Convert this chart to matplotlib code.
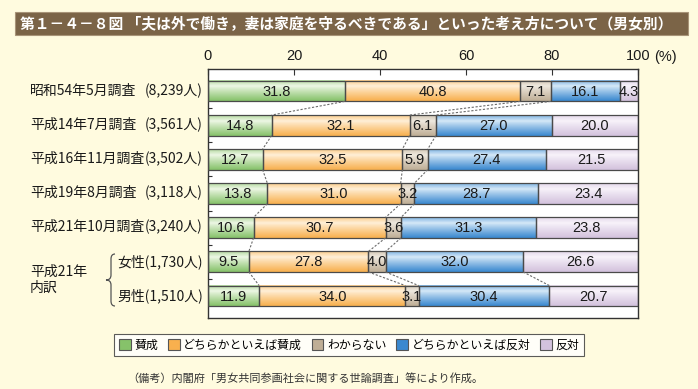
import matplotlib
matplotlib.use('Agg')
import matplotlib.pyplot as plt
import numpy as np
from matplotlib.patches import Rectangle, PathPatch, Patch
from matplotlib.path import Path
from matplotlib.colors import to_rgb

# ---------------- data ----------------
categories = ['昭和54年5月調査', '平成14年7月調査', '平成16年11月調査', '平成19年8月調査',
              '平成21年10月調査', '女性', '男性']
counts = ['(8,239人)', '(3,561人)', '(3,502人)', '(3,118人)', '(3,240人)', '(1,730人)', '(1,510人)']
series_names = ['賛成', 'どちらかといえば賛成', 'わからない', 'どちらかといえば反対', '反対']
agree = [31.8, 14.8, 12.7, 13.8, 10.6, 9.5, 11.9]
rather_agree = [40.8, 32.1, 32.5, 31.0, 30.7, 27.8, 34.0]
unknown = [7.1, 6.1, 5.9, 3.2, 3.6, 4.0, 3.1]
rather_disagree = [16.1, 27.0, 27.4, 28.7, 31.3, 32.0, 30.4]
disagree = [4.3, 20.0, 21.5, 23.4, 23.8, 26.6, 20.7]
x_ticks = [0, 20, 40, 60, 80, 100]
title = '第１－４－８図 「夫は外で働き，妻は家庭を守るべきである」といった考え方について（男女別）'
note = '（備考）内閣府「男女共同参画社会に関する世論調査」等により作成。'

series = [agree, rather_agree, unknown, rather_disagree, disagree]
base_colors = ['#86c26a', '#f8b04e', '#bfae96', '#3a88cf', '#d3c2dd']
light_colors = ['#eef7e6', '#fff0d8', '#efe9df', '#d6e9f8', '#f8f3fa']

JP = ['Noto Sans CJK JP', 'DejaVu Sans']
NUM = ['Liberation Sans', 'DejaVu Sans']
plt.rcParams['font.family'] = JP

W, H = 698, 389
BG = '#fffbdf'
fig = plt.figure(figsize=(W / 100, H / 100), dpi=100, facecolor=BG)


def fx(x):
    return x / W


def fy(y):
    return 1 - y / H


# axes: x 208..638, y 69..318 (pixels)
ax = fig.add_axes([fx(208), fy(318), (638 - 208) / W, (318 - 69) / H])
ax.set_facecolor('white')

n = len(categories)
bar_h = 0.6
ys = np.arange(n)


def gradient_img(base, light):
    b = np.array(to_rgb(base))
    l = np.array(to_rgb(light))
    t = np.linspace(0, 1, 40)
    f = np.where(t < 0.28, 0.55 * (1 - t / 0.28), ((t - 0.28) / 0.72) ** 0.9)
    img = l[None, :] * (1 - f[:, None]) + b[None, :] * f[:, None]
    return img[:, None, :]


lefts = np.zeros(n)
ends = []
for s_idx, vals in enumerate(series):
    img = gradient_img(base_colors[s_idx], light_colors[s_idx])
    vals = np.array(vals)
    for i in range(n):
        l, w = lefts[i], vals[i]
        ax.imshow(img, extent=(l, l + w, i + bar_h / 2, i - bar_h / 2), aspect='auto',
                  interpolation='bilinear', zorder=2, clip_on=True)
        ax.text(l + w / 2, i + 0.02, f'{w:.1f}', ha='center', va='center', fontsize=10.5,
                family=NUM, color='#1a1a1a', zorder=4, clip_on=True)
    ax.barh(ys, vals, left=lefts, height=bar_h, facecolor='none', edgecolor='#4a4a4a',
            linewidth=0.9, zorder=3)
    lefts = lefts + vals
    ends.append(lefts.copy())

# dashed connector lines
for i in range(n - 1):
    k_list = [0, 1, 2] + ([3] if i == n - 2 else [])
    for k in k_list:
        ax.plot([ends[k][i], ends[k][i + 1]], [i + bar_h / 2, i + 1 - bar_h / 2],
                linestyle=(0, (2, 1.5)), color='#6a6a6a', linewidth=0.8, zorder=3)

ax.set_xlim(0, 100)
ax.set_ylim(n - 1 + 0.65, -0.65)
ax.xaxis.tick_top()
ax.set_xticks(x_ticks)
ax.set_xticklabels([str(t) for t in x_ticks], family=NUM)
ax.tick_params(axis='x', direction='in', length=4, width=0.8, pad=4, labelsize=10.5,
               colors='#333333', labelcolor='#1a1a1a')
ax.set_yticks(np.arange(n - 1) + 0.5)
ax.set_yticklabels([])
ax.tick_params(axis='y', direction='in', length=3, width=0.8, colors='#333333')
for sp in ax.spines.values():
    sp.set_color('#333333')
    sp.set_linewidth(1.0)

fig.text(fx(654), fy(57), '(%)', fontsize=10.5, family=NUM, va='center', ha='left', color='#1a1a1a')

# row labels
row_px = [91, 125, 159, 193, 227, 261.5, 295.5]
for i in range(n):
    if i < 5:
        fig.text(fx(30), fy(row_px[i]), categories[i], fontsize=10, va='center', ha='left', color='#1a1a1a')
        fig.text(fx(203), fy(row_px[i]), counts[i], fontsize=10, va='center', ha='right', color='#1a1a1a')
    else:
        fig.text(fx(203), fy(row_px[i]), categories[i] + counts[i], fontsize=10, va='center',
                 ha='right', color='#1a1a1a')
fig.text(fx(30), fy(271.5), '平成21年', fontsize=10, va='center', ha='left', color='#1a1a1a')
fig.text(fx(30), fy(288), '内訳', fontsize=10, va='center', ha='left', color='#1a1a1a')

# brace
pts = [(115, 254), (111, 254), (111, 259), (111, 275), (111, 280), (106, 280),
       (111, 280), (111, 285), (111, 301), (111, 306), (115, 306)]
codes = [Path.MOVETO, Path.CURVE3, Path.CURVE3, Path.LINETO, Path.CURVE3, Path.CURVE3,
         Path.CURVE3, Path.CURVE3, Path.LINETO, Path.CURVE3, Path.CURVE3]
path = Path([(fx(x), fy(y)) for x, y in pts], codes)
fig.add_artist(PathPatch(path, facecolor='none', edgecolor='#555555', linewidth=0.9,
                         transform=fig.transFigure))

# title bar
fig.add_artist(Rectangle((fx(15), fy(35)), (688 - 15) / W, 23 / H, facecolor='#7b6447',
                         edgecolor='#a89478', linewidth=0.8, transform=fig.transFigure))
fig.text(fx(20), fy(23.5), title, color='white', fontsize=10.6, fontweight='bold',
         va='center', ha='left')

# legend
handles = [Patch(facecolor=base_colors[k], edgecolor='#555555', linewidth=0.8)
           for k in range(len(series_names))]
leg = fig.legend(handles, series_names, loc='center', bbox_to_anchor=(fx(349), fy(345)),
                 ncol=5, frameon=True, fancybox=False, edgecolor='#333333', facecolor='white',
                 handlelength=1.0, handleheight=1.0, handletextpad=0.3, columnspacing=0.8,
                 fontsize=8.6, borderpad=0.4, borderaxespad=0)
leg.get_frame().set_linewidth(0.8)

fig.text(fx(127), fy(378), note, fontsize=8, va='center', ha='left', color='#333333')

fig.savefig('out.png', dpi=100, facecolor=BG)
